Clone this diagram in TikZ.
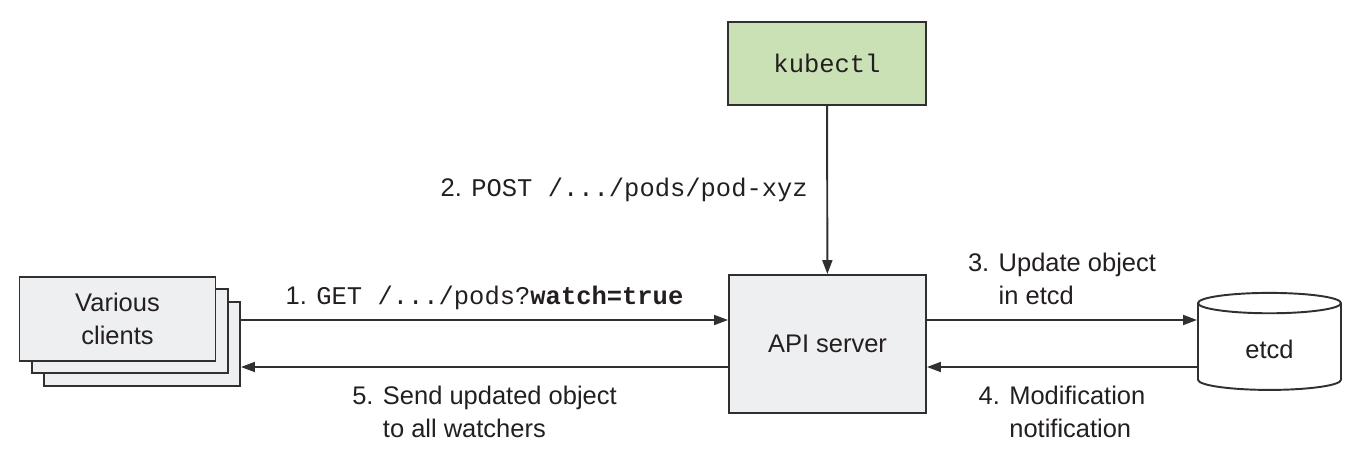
\documentclass[tikz,border=0pt]{standalone}
\usepackage{fontspec}
\setmainfont{Liberation Sans}
\setmonofont{Liberation Mono}
\usepackage{xcolor}
\usetikzlibrary{arrows.meta,shapes.geometric}

\definecolor{boxgray}{HTML}{EEEFF1}
\definecolor{kubegreen}{HTML}{C9E1B5}
\definecolor{linegray}{HTML}{303030}
\definecolor{textblack}{HTML}{231F20}

\begin{document}
\begin{tikzpicture}[
        font=\fontsize{14.5}{18.7}\selectfont,
        box/.style={draw=linegray, line width=1.1pt, fill=boxgray, text=textblack,
            minimum width=3.94cm, minimum height=2.76cm, inner sep=0pt, align=center},
        client/.style={box, minimum width=3.92cm, minimum height=1.68cm},
        flow/.style={draw=linegray, line width=1.1pt, -{Triangle[length=0.28cm,width=0.2cm]}},
        lbl/.style={text=textblack, inner sep=2pt, align=left}
    ]
        \useasboundingbox (0,0) rectangle (27.3,9.4);

        % Clients (stack of three)
        \node[client] (clients3) at (2.84,2.52) {};
        \node[client] (clients2) at (2.60,2.78) {};
        \node[client] (clients) at (2.35,3.02) {Various\\clients};

        % API server and kubectl
        \node[box] (api) at (16.55,2.52) {API server};
        \node[box, fill=kubegreen, minimum width=3.96cm, minimum height=1.66cm] (kubectl) at (16.54,8.13) {\texttt{kubectl}};

        % etcd
        \node[cylinder, shape border rotate=90, aspect=0.34, draw=linegray, line width=1.1pt,
            fill=white, text=textblack, minimum width=2.86cm, minimum height=1.94cm] (etcd) at (25.39,2.42) {etcd};

        % Requests
        \draw[flow] (kubectl) -- (api)
            node[lbl, midway, left=0.3cm] {2. \texttt{POST /.../pods/pod-xyz}};
        \draw[flow] ([yshift=0.48cm]api.west -| clients3.east) -- ([yshift=0.48cm]api.west)
            node[lbl, midway, above=0.12cm] {1. \texttt{GET /.../pods?\textbf{watch=true}}};
        \draw[flow] ([yshift=0.48cm]api.east) -- ([yshift=0.48cm]api.east -| etcd.west)
            node[lbl, midway, above=0.22cm] {3. Update object\\\phantom{3. }in etcd};

        % Notifications
        \draw[flow] ([yshift=-0.46cm]api.east -| etcd.west) -- ([yshift=-0.46cm]api.east)
            node[lbl, midway, below=0.3cm] {4. Modification\\\phantom{4. }notification};
        \draw[flow] ([yshift=-0.46cm]api.west) -- ([yshift=-0.46cm]api.west -| clients3.east)
            node[lbl, midway, below=0.3cm] {5. Send updated object\\\phantom{5. }to all watchers};
    \end{tikzpicture}
\end{document}
